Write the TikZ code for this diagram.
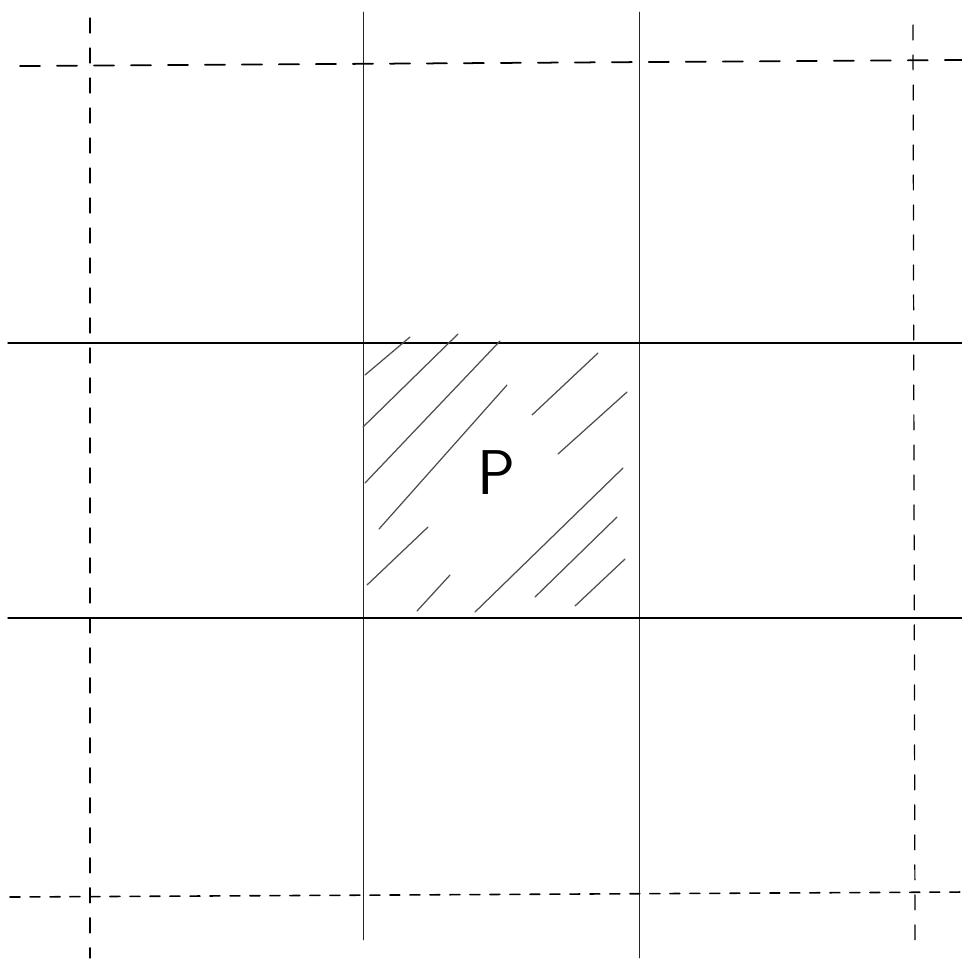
\documentclass[tikz,border=0pt]{standalone}
\usepackage{tikz}

\begin{document}
\begin{tikzpicture}[x=0.02cm,y=-0.02cm,line cap=round,
 solid vert/.style={draw,line width=0.5pt,black!85},
 solid horiz/.style={draw,line width=0.8pt},
 guide long/.style={draw,line width=1pt,dash pattern=on 0.4cm off 0.34cm},
 guide short/.style={draw,line width=0.9pt,dash pattern=on 0.2cm off 0.2cm},
 guide vert/.style={draw,line width=0.7pt,dash pattern=on 0.3cm off 0.3cm},
 hatch/.style={draw,line width=0.7pt,black!70}]
\useasboundingbox (0,0) rectangle (962,958);
% grid lines
\draw[solid vert] (363,12) -- (363,940);
\draw[solid vert] (639,12) -- (639,958);
\draw[solid horiz] (8,343) -- (962,343);
\draw[solid horiz] (8,618) -- (962,618);
% dashed border lines
\draw[guide long] (20,66) -- (962,60);
\draw[guide short] (10,897) -- (962,892);
\draw[guide vert] (90,18) -- (90,958);
\draw[guide vert] (913,25) -- (915,940);
% hatched cell
\foreach \xa/\ya/\xb/\yb in {365/375/410/337, 363/427/458/334, 365/483/500/341,
 379/529/507/385, 532/415/598/353, 558/454/627/392, 367/585/428/527,
 417/611/450/575, 475/612/623/468, 535/597/617/517, 575/606/625/559}
 \draw[hatch] (\xa,\ya) -- (\xb,\yb);
\node (p) at (496,473) {\sffamily\fontsize{36}{36}\selectfont P};
\end{tikzpicture}
\end{document}
